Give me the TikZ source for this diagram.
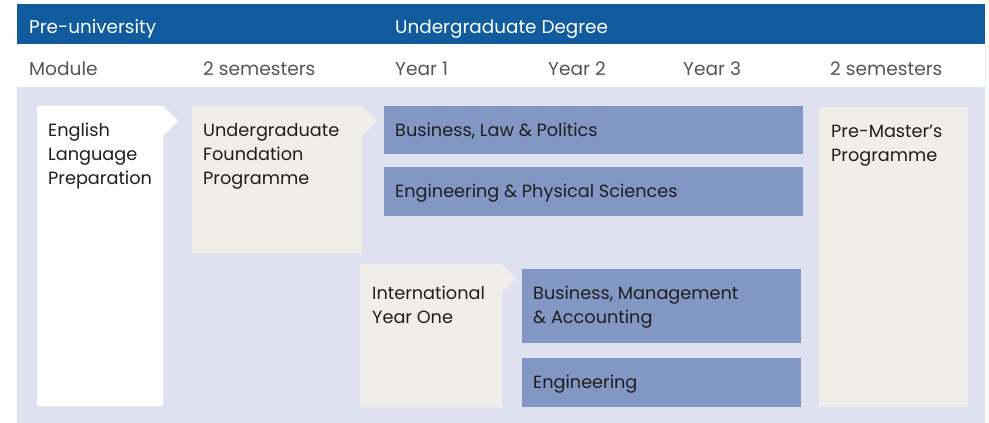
\documentclass[tikz,border=0pt]{standalone}
\usepackage{fontspec}
\setmainfont{Poppins}

\definecolor{headblue}{HTML}{115C9E}
\definecolor{lavender}{HTML}{DEE1F0}
\definecolor{progblue}{HTML}{8397C5}
\definecolor{beige}{HTML}{F1EEEA}
\definecolor{rowgray}{HTML}{555555}
\definecolor{textdark}{HTML}{1E1E1E}

\tikzset{
  txt/.style={anchor=base west, inner sep=0pt, align=left,
    font=\fontsize{17.7}{24}\selectfont, text=textdark},
  headtxt/.style={txt, font=\fontsize{18.4}{24}\selectfont, text=white},
  rowtxt/.style={txt, font=\fontsize{18.6}{24}\selectfont, text=rowgray},
}

\begin{document}
\begin{tikzpicture}[x=1pt,y=-1pt]
\useasboundingbox (0,0) rectangle (989,423);

% Kopfzeilen
\fill[headblue] (17,4) rectangle (985,44);
\draw[gray!15] (17,87) -- (985,87) -- (985,44);
\fill[lavender] (17,87) rectangle (985,423);

\node[headtxt] (preuni) at (29,34) {Pre-university};
\node[headtxt] (ugdeg) at (395,34) {Undergraduate Degree};

\foreach \x/\t [count=\i] in {29/Module, 203/2 semesters, 395/Year 1,
                              548/Year 2, 683/Year 3, 830/2 semesters} {
  \node[rowtxt] (row\i) at (\x,75) {\t};
}

% Programme
\fill[white] (37,106) -- (163,106) -- (178,121) -- (163,136)
  -- (163,406) -- (37,406) -- cycle;
\fill[beige] (192,106) -- (362,106) -- (377,121) -- (362,136)
  -- (362,253) -- (192,253) -- cycle;
\fill[beige] (360,264) -- (502,264) -- (516,278.5) -- (502,293)
  -- (502,407) -- (360,407) -- cycle;
\fill[beige] (819,107) rectangle (968,407);

\fill[progblue] (384,106) rectangle (803,154);
\fill[progblue] (384,167) rectangle (803,216);
\fill[progblue] (522,269) rectangle (801,343);
\fill[progblue] (522,358) rectangle (801,407);

% base = Grundlinie der letzten Zeile
\node[txt] (elp) at (48,184) {English\\Language\\Preparation};
\node[txt] (ufp) at (203,184) {Undergraduate\\Foundation\\Programme};
\node[txt] (blp) at (395,136) {Business, Law \& Politics};
\node[txt] (eps) at (395,197) {Engineering \& Physical Sciences};
\node[txt] (iyo) at (372,323) {International\\Year One};
\node[txt] (bma) at (533,323) {Business, Management\\\& Accounting};
\node[txt] (eng) at (533,388) {Engineering};
\node[txt] (pmp) at (831,161) {Pre-Master’s\\Programme};

\end{tikzpicture}
\end{document}
